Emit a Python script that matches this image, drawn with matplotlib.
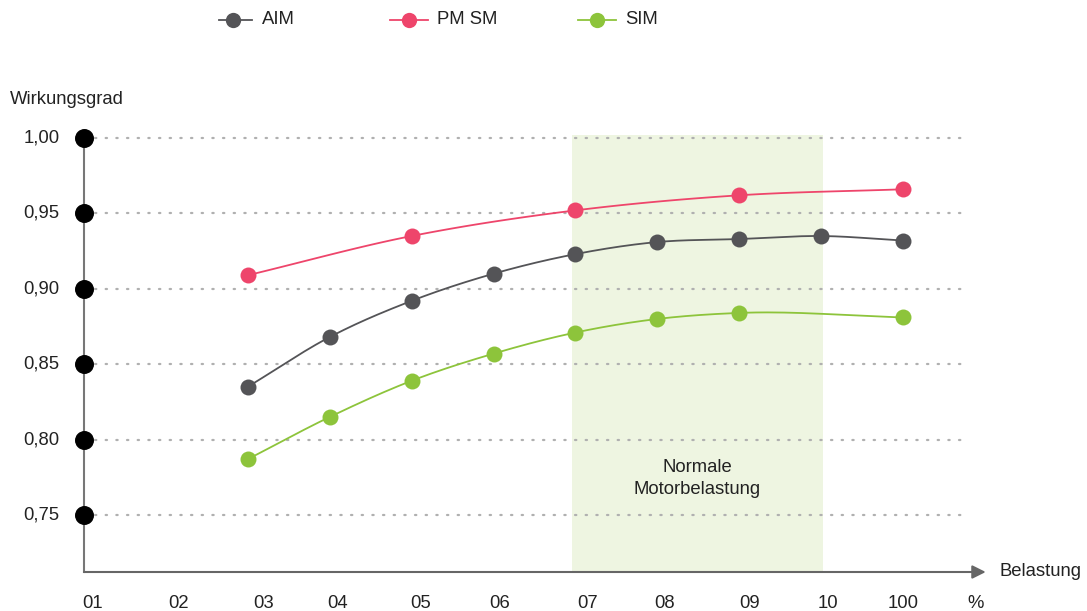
import numpy as np
import matplotlib.pyplot as plt

plt.rcParams['font.family'] = ['Liberation Sans', 'DejaVu Sans']

# load in percent and efficiency values
aim_x = [20, 30, 40, 50, 60, 70, 80, 90, 100]
aim_y = [0.835, 0.868, 0.892, 0.910, 0.923, 0.931, 0.933, 0.935, 0.932]
pmsm_x = [20, 40, 60, 80, 100]
pmsm_y = [0.909, 0.935, 0.952, 0.962, 0.966]
sim_x = [20, 30, 40, 50, 60, 70, 80, 100]
sim_y = [0.787, 0.815, 0.839, 0.857, 0.871, 0.880, 0.884, 0.881]

y_ticks = [1.00, 0.95, 0.90, 0.85, 0.80, 0.75]
y_labels = ['1,00', '0,95', '0,90', '0,85', '0,80', '0,75']
x_labels = ['01', '02', '03', '04', '05', '06', '07', '08', '09', '10', '100', '%']
x_label_pos = [1.0, 11.5, 21.9, 31.0, 41.1, 50.8, 61.5, 70.9, 81.3, 90.8, 100.0, 108.8]
normal_range = (59.6, 90.2)

C_AIM = '#545457'
C_PMSM = '#ee456b'
C_SIM = '#8dc43b'
C_SHADE = '#eef5e1'
C_TEXT = '#222222'
FS = 13.3


def smooth(xs, ys, n=30):
    # Catmull-Rom style cubic Hermite through the points
    xs, ys = np.asarray(xs, float), np.asarray(ys, float)
    m = np.gradient(ys, xs)
    px, py = [], []
    for i in range(len(xs) - 1):
        h = xs[i + 1] - xs[i]
        t = np.linspace(0, 1, n)
        h00 = 2 * t**3 - 3 * t**2 + 1
        h10 = t**3 - 2 * t**2 + t
        h01 = -2 * t**3 + 3 * t**2
        h11 = t**3 - t**2
        px.extend(xs[i] + t * h)
        py.extend(h00 * ys[i] + h10 * h * m[i] + h01 * ys[i + 1] + h11 * h * m[i + 1])
    return px, py


W, H = 1087, 611
fig = plt.figure(figsize=(W / 100, H / 100), dpi=100)
ax = fig.add_axes([84 / W, 1 - 572 / H, (990 - 84) / W, (572 - 128) / H])
ax.set_xlim(0, (990 - 84) / 8.19)
ax.set_ylim(0.75 - 57 / 75.4 * 0.05, 1.0 + 10 / 75.4 * 0.05)
ax.axis('off')
ylo, yhi = ax.get_ylim()

# normal operating range
ax.axvspan(*normal_range, ymin=0, ymax=(1.002 - ylo) / (yhi - ylo),
           color=C_SHADE, lw=0, zorder=0)
ax.text(sum(normal_range) / 2, 0.774, 'Normale\nMotorbelastung', ha='center', va='center',
        fontsize=FS, color=C_TEXT, linespacing=1.4)

# dotted grid
for yv in y_ticks:
    ax.plot([1.4, 108.0], [yv, yv], color='#b0b0b0', lw=1.6, ls=(0, (0.6, 4.2)),
            dash_capstyle='round', zorder=1)

# axes lines
ax.plot([0, 0], [ylo, 1.0], color='#777777', lw=1.5, zorder=2, clip_on=False)
ax.annotate('', xy=(110.1, ylo), xytext=(0, ylo),
            arrowprops=dict(arrowstyle='-|>', color='#666666', lw=1.5, mutation_scale=20,
                            shrinkA=0, shrinkB=0), annotation_clip=False)
ax.scatter([0] * len(y_ticks), y_ticks, s=160, color='black', zorder=5, clip_on=False)
for yv, lab in zip(y_ticks, y_labels):
    ax.text(-3.0, yv, lab, ha='right', va='center', fontsize=FS, color=C_TEXT)
for xp, lab in zip(x_label_pos, x_labels):
    ax.text(xp, 0.6912, lab, ha='center', va='center', fontsize=FS, color=C_TEXT,
            clip_on=False)
ax.text(111.8, ylo, 'Belastung', ha='left', va='center', fontsize=FS, color=C_TEXT)
fig.text(10 / W, 1 - 99 / H, 'Wirkungsgrad', ha='left', va='center', fontsize=FS, color=C_TEXT)

# series
for xs, ys, c in [(aim_x, aim_y, C_AIM), (pmsm_x, pmsm_y, C_PMSM), (sim_x, sim_y, C_SIM)]:
    sx, sy = smooth(xs, ys)
    ax.plot(sx, sy, color=c, lw=1.3, zorder=3)
    ax.plot(xs, ys, 'o', color=c, ms=11.5, mec='none', zorder=4)

# legend
leg = [(219, 252, 233, 262, C_AIM, 'AIM'), (390, 428, 409, 437, C_PMSM, 'PM SM'),
       (578, 616, 597, 625, C_SIM, 'SIM')]
lax = fig.add_axes([0, 0, 1, 1])
lax.set_xlim(0, W)
lax.set_ylim(H, 0)
lax.axis('off')
for x0, x1, xm, xt, c, name in leg:
    lax.plot([x0, x1], [20, 20], color=c, lw=1.3)
    lax.plot([xm], [20], 'o', color=c, ms=11, mec='none')
    lax.text(xt, 20, name, ha='left', va='center', fontsize=FS, color=C_TEXT)

fig.savefig('out.png', dpi=100)
